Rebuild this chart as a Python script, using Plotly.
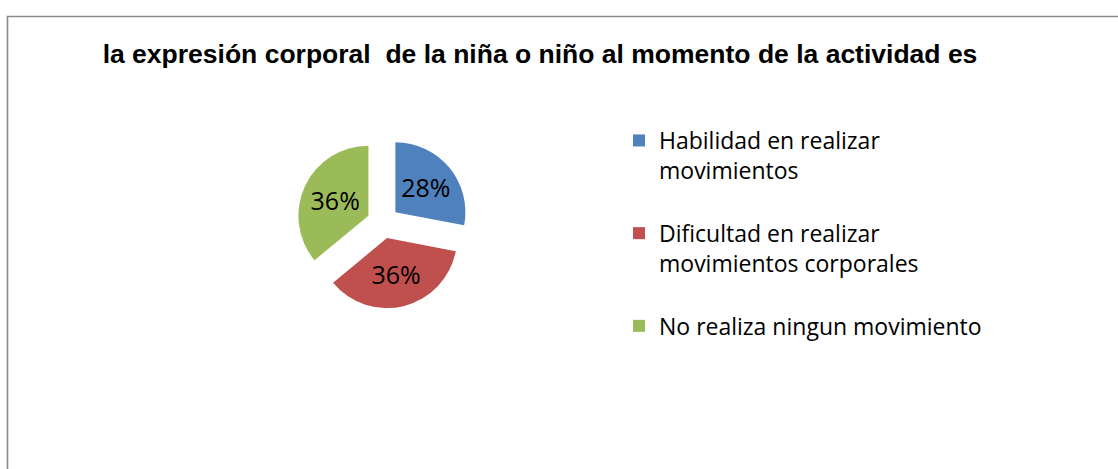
import plotly.graph_objects as go

title_text = "la expresión corporal  de la niña o niño al momento de la actividad es"
categories = [
    "Habilidad en realizar movimientos",
    "Dificultad en realizar movimientos corporales",
    "No realiza ningun movimiento",
]
legend_lines = [
    ["Habilidad en realizar", "movimientos"],
    ["Dificultad en realizar", "movimientos corporales"],
    ["No realiza ningun movimiento"],
]
values = [28, 36, 36]
colors = ["#4F81BD", "#C0504D", "#9BBB59"]

W, H = 1118, 469

labels = ["<br>".join(l) + ("<br> " if len(l) > 1 else "") for l in legend_lines]

cx, cy, r, pull = 383, 222.5, 70, 0.23
half = r * (1 + pull)

fig = go.Figure(go.Pie(
    labels=labels,
    values=values,
    sort=False,
    direction="clockwise",
    rotation=0,
    pull=[pull] * 3,
    marker=dict(colors=colors, line=dict(width=0)),
    textinfo="percent",
    texttemplate="%{percent:.0%}",
    textposition="inside",
    insidetextorientation="horizontal",
    textfont=dict(family="Open Sans", size=25, color="black"),
    domain=dict(x=[(cx - half) / W, (cx + half) / W],
                y=[1 - (cy + half) / H, 1 - (cy - half) / H]),
    hovertext=categories,
    hoverinfo="text+percent",
))

fig.update_layout(
    width=W, height=H,
    margin=dict(l=0, r=0, t=0, b=0),
    paper_bgcolor="white",
    plot_bgcolor="white",
    title=dict(text="<b>" + title_text + "</b>", x=540 / W, xanchor="center",
               y=1 - 54 / H, yanchor="middle", yref="container",
               font=dict(family="Liberation Sans", size=26.5, color="black")),
    showlegend=True,
    legend=dict(x=619 / W, xanchor="left", y=1 - 119 / H, yanchor="top",
                valign="top", font=dict(family="Open Sans", size=23, color="black"),
                bgcolor="rgba(0,0,0,0)"),
    shapes=[dict(type="rect", xref="paper", yref="paper",
                 x0=7.5 / W, x1=1.05, y0=-0.05, y1=1 - 16.5 / H,
                 line=dict(color="#8A8A8A", width=1.6), fillcolor="rgba(0,0,0,0)")],
)

fig.write_html(
    "out.html",
    config={"displayModeBar": False},
    post_script="document.body.style.margin='0';document.body.style.overflow='hidden';",
)
